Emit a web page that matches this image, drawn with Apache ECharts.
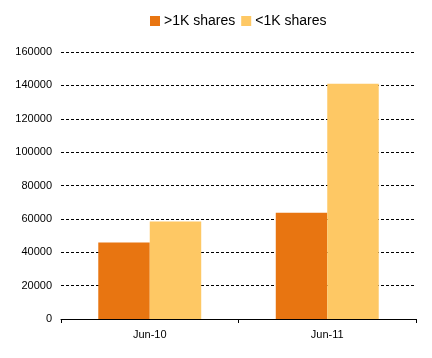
<!DOCTYPE html>
<html><head><meta charset="utf-8">
<script src="https://cdn.jsdelivr.net/npm/echarts@6/dist/echarts.min.js"></script>
<style>html,body{margin:0;padding:0;background:#fff}#c{width:432px;height:358px}</style>
</head><body><div id="c"></div>
<script>
const categories = ['Jun-10', 'Jun-11'];
const seriesNames = ['>1K shares', '<1K shares'];
const above1K = [45800, 63600];
const below1K = [58400, 141000];
const yTicks = [0, 20000, 40000, 60000, 80000, 100000, 120000, 140000, 160000];

const chart = echarts.init(document.getElementById('c'));
chart.setOption({
  animation: false,
  textStyle: {fontFamily: 'Liberation Sans, Arial, sans-serif'},
  legend: {
    top: 9, left: 145, itemWidth: 10, itemHeight: 10, itemGap: 6,
    icon: 'rect',
    textStyle: {fontSize: 14, color: '#000', padding: [0,0,0,-1]},
    data: seriesNames
  },
  grid: {left: 61, right: 16, top: 52, bottom: 39, containLabel: false},
  xAxis: {
    type: 'category', data: categories,
    axisLine: {lineStyle: {color: '#000', width: 1}},
    axisTick: {show: true, length: 4, lineStyle: {color: '#000'}},
    axisLabel: {color: '#000', fontSize: 11, margin: 10}
  },
  yAxis: {
    type: 'value', min: yTicks[0], max: yTicks[yTicks.length-1], interval: 20000,
    axisLine: {show: false}, axisTick: {show: false},
    axisLabel: {color: '#000', fontSize: 11, margin: 9, formatter: v => String(v)},
    splitLine: {lineStyle: {color: '#000', type: [3, 2], width: 1}}
  },
  series: [
    {name: seriesNames[0], type: 'bar', data: above1K, itemStyle: {color: '#E87511'}, barGap: '0%', barCategoryGap: '42%'},
    {name: seriesNames[1], type: 'bar', data: below1K, itemStyle: {color: '#FEC864'}, barGap: '0%', barCategoryGap: '42%'}
  ]
});
</script></body></html>
